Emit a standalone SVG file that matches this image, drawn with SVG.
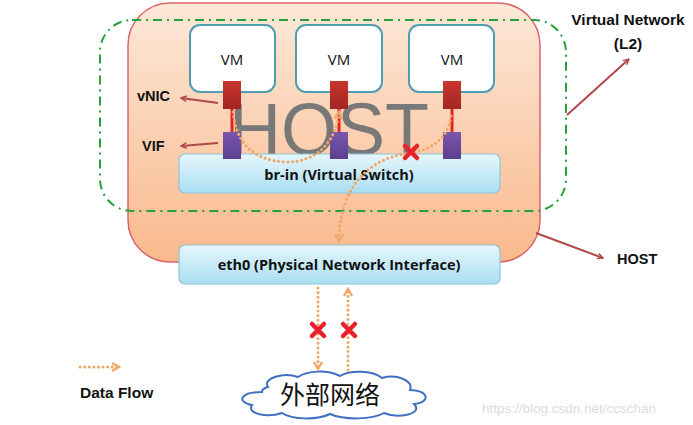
<svg xmlns="http://www.w3.org/2000/svg" width="693" height="425" viewBox="0 0 693 425">
<defs>
<linearGradient id="hostG" x1="0" y1="0" x2="0" y2="1">
<stop offset="0" stop-color="#fde8d8"/>
<stop offset="1" stop-color="#f9b98c"/>
</linearGradient>
<linearGradient id="barG" x1="0" y1="0" x2="0" y2="1">
<stop offset="0" stop-color="#e6f6fc"/>
<stop offset="1" stop-color="#a9def2"/>
</linearGradient>
<linearGradient id="nicG" x1="0" y1="0" x2="0" y2="1">
<stop offset="0" stop-color="#c9352c"/>
<stop offset="1" stop-color="#a22624"/>
</linearGradient>
<linearGradient id="vifG" x1="0" y1="0" x2="0" y2="1">
<stop offset="0" stop-color="#7a56ad"/>
<stop offset="1" stop-color="#5b3f8f"/>
</linearGradient>
<marker id="lblArrow" viewBox="0 0 10 10" refX="9" refY="5" markerWidth="7" markerHeight="7" orient="auto-start-reverse" markerUnits="userSpaceOnUse">
<path d="M1,1 L9,5 L1,9" fill="none" stroke="#b0474a" stroke-width="2"/>
</marker>
<marker id="flowArrow" viewBox="0 0 10 10" refX="7" refY="5" markerWidth="10" markerHeight="10" orient="auto" markerUnits="userSpaceOnUse">
<path d="M1,1 L8,5 L1,9" fill="none" stroke="#f0a868" stroke-width="2.4"/>
</marker>
<g id="xmark-def">
<path d="M-6,-6 L6,6 M6,-6 L-6,6" stroke="#e8202a" stroke-width="4.5" stroke-linecap="round"/>
</g>
</defs>
<style>
.lbl{font-family:"Liberation Sans","Open Sans",sans-serif;font-weight:bold;font-size:14.5px;fill:#111;}
.lbl2{font-family:"Liberation Sans","Open Sans",sans-serif;font-weight:bold;font-size:15.5px;fill:#111;}
.vm{fill:#fff;stroke:#4f9eb0;stroke-width:2;}
.vmt{font-family:"Open Sans","Liberation Sans",sans-serif;font-size:15px;fill:#111;text-anchor:middle;}
.bar{fill:url(#barG);stroke:#8fc4d4;stroke-width:1.2;}
.bart{font-family:"Open Sans","Liberation Sans",sans-serif;font-weight:bold;font-size:14.5px;fill:#111;text-anchor:middle;}
.lblline{stroke:#b0474a;stroke-width:2;fill:none;}
.flow{stroke:#f0a868;stroke-width:3;fill:none;stroke-dasharray:0.1 4.5;stroke-linecap:round;}
.link{stroke:#e82020;stroke-width:3;}
</style>
<rect width="693" height="425" fill="#fff"/>
<g id="host">
<rect x="128" y="3" width="412" height="259" rx="42" fill="url(#hostG)" stroke="#d8656a" stroke-width="1.5"/>
<text x="229" y="155" font-family="Liberation Sans, sans-serif" font-size="74" fill="#787878" textLength="200" lengthAdjust="spacingAndGlyphs">HOST</text>
</g>
<g id="virtual-network">
<rect x="100" y="20" width="466" height="191" rx="32" fill="none" stroke="#25a03c" stroke-width="2" stroke-dasharray="9 5 2 5"/>
</g>
<g id="vm1"><rect class="vm" x="190" y="25" width="85" height="67" rx="10"/><text class="vmt" x="232" y="65">VM</text></g>
<g id="vm2"><rect class="vm" x="296" y="25" width="86" height="67" rx="10"/><text class="vmt" x="339" y="65">VM</text></g>
<g id="vm3"><rect class="vm" x="409" y="25" width="85" height="67" rx="10"/><text class="vmt" x="452" y="65">VM</text></g>
<g id="br-in"><rect class="bar" x="179" y="154" width="321" height="39" rx="6"/><text class="bart" x="339" y="180">br-in (Virtual Switch)</text></g>
<g id="links">
<line class="link" x1="232" y1="109" x2="232" y2="132"/>
<line class="link" x1="339" y1="109" x2="339" y2="132"/>
<line class="link" x1="452" y1="109" x2="452" y2="132"/>
</g>
<g id="vnic1"><rect x="223" y="81" width="18" height="28" fill="url(#nicG)"/></g>
<g id="vnic2"><rect x="330" y="81" width="18" height="28" fill="url(#nicG)"/></g>
<g id="vnic3"><rect x="443" y="81" width="18" height="28" fill="url(#nicG)"/></g>
<g id="vif1"><rect x="223" y="132" width="18" height="27" fill="url(#vifG)"/></g>
<g id="vif2"><rect x="330" y="132" width="18" height="27" fill="url(#vifG)"/></g>
<g id="vif3"><rect x="443" y="132" width="18" height="27" fill="url(#vifG)"/></g>
<g id="eth0"><rect class="bar" x="179" y="245" width="321" height="39" rx="6"/><text class="bart" x="339" y="270">eth0 (Physical Network Interface)</text></g>
<g id="cloud">
<path d="M262,392 C240,392 236,402 252,405 C246,414 268,418 282,413 C292,420 318,420 330,414 C344,420 372,420 384,413 C398,419 424,414 414,404 C432,402 428,390 410,390 C414,380 396,374 382,378 C372,370 350,370 340,376 C328,370 308,370 298,377 C284,372 262,378 268,387 C264,388 262,390 262,392 Z" fill="#fff" stroke="#3f70c2" stroke-width="2"/>
<text x="330" y="404" font-family="'Noto Sans CJK SC',sans-serif" font-size="25" fill="#111" text-anchor="middle">外部网络</text>
</g>
<g id="connectors">
<line class="lblline" x1="218" y1="103" x2="181" y2="98" marker-end="url(#lblArrow)"/>
<line class="lblline" x1="218" y1="143" x2="181" y2="146" marker-end="url(#lblArrow)"/>
<line class="lblline" x1="567" y1="115" x2="629" y2="59" marker-end="url(#lblArrow)"/>
<line class="lblline" x1="536" y1="233" x2="603" y2="258" marker-end="url(#lblArrow)"/>
<path class="flow" d="M233,112 C236,140 250,160 285,162 C318,163 336,140 339,113" marker-end="url(#flowArrow)"/>
<path class="flow" d="M451,116 C448,140 430,150 410,153 C370,158 340,185 339,240" marker-end="url(#flowArrow)"/>
<path class="flow" d="M318,288 L318,368" marker-end="url(#flowArrow)"/>
<path class="flow" d="M348,370 L348,290" marker-end="url(#flowArrow)"/>
<path class="flow" d="M80,367 L118,367" marker-end="url(#flowArrow)"/>
<use href="#xmark-def" x="411" y="152"/>
<use href="#xmark-def" x="318" y="330"/>
<use href="#xmark-def" x="349" y="330"/>
</g>
<g id="labels">
<text class="lbl" x="137" y="101">vNIC</text>
<text class="lbl" x="142" y="151">VIF</text>
<text class="lbl2" x="628" y="25" text-anchor="middle">Virtual Network</text>
<text class="lbl2" x="628" y="49" text-anchor="middle">(L2)</text>
<text class="lbl" x="617" y="264">HOST</text>
<text class="lbl2" x="80" y="398">Data Flow</text>
<text x="482" y="413" font-family="Liberation Sans, sans-serif" font-size="13.5" fill="#dcdcdc">https://blog.csdn.net/ccschan</text>
</g>
</svg>
